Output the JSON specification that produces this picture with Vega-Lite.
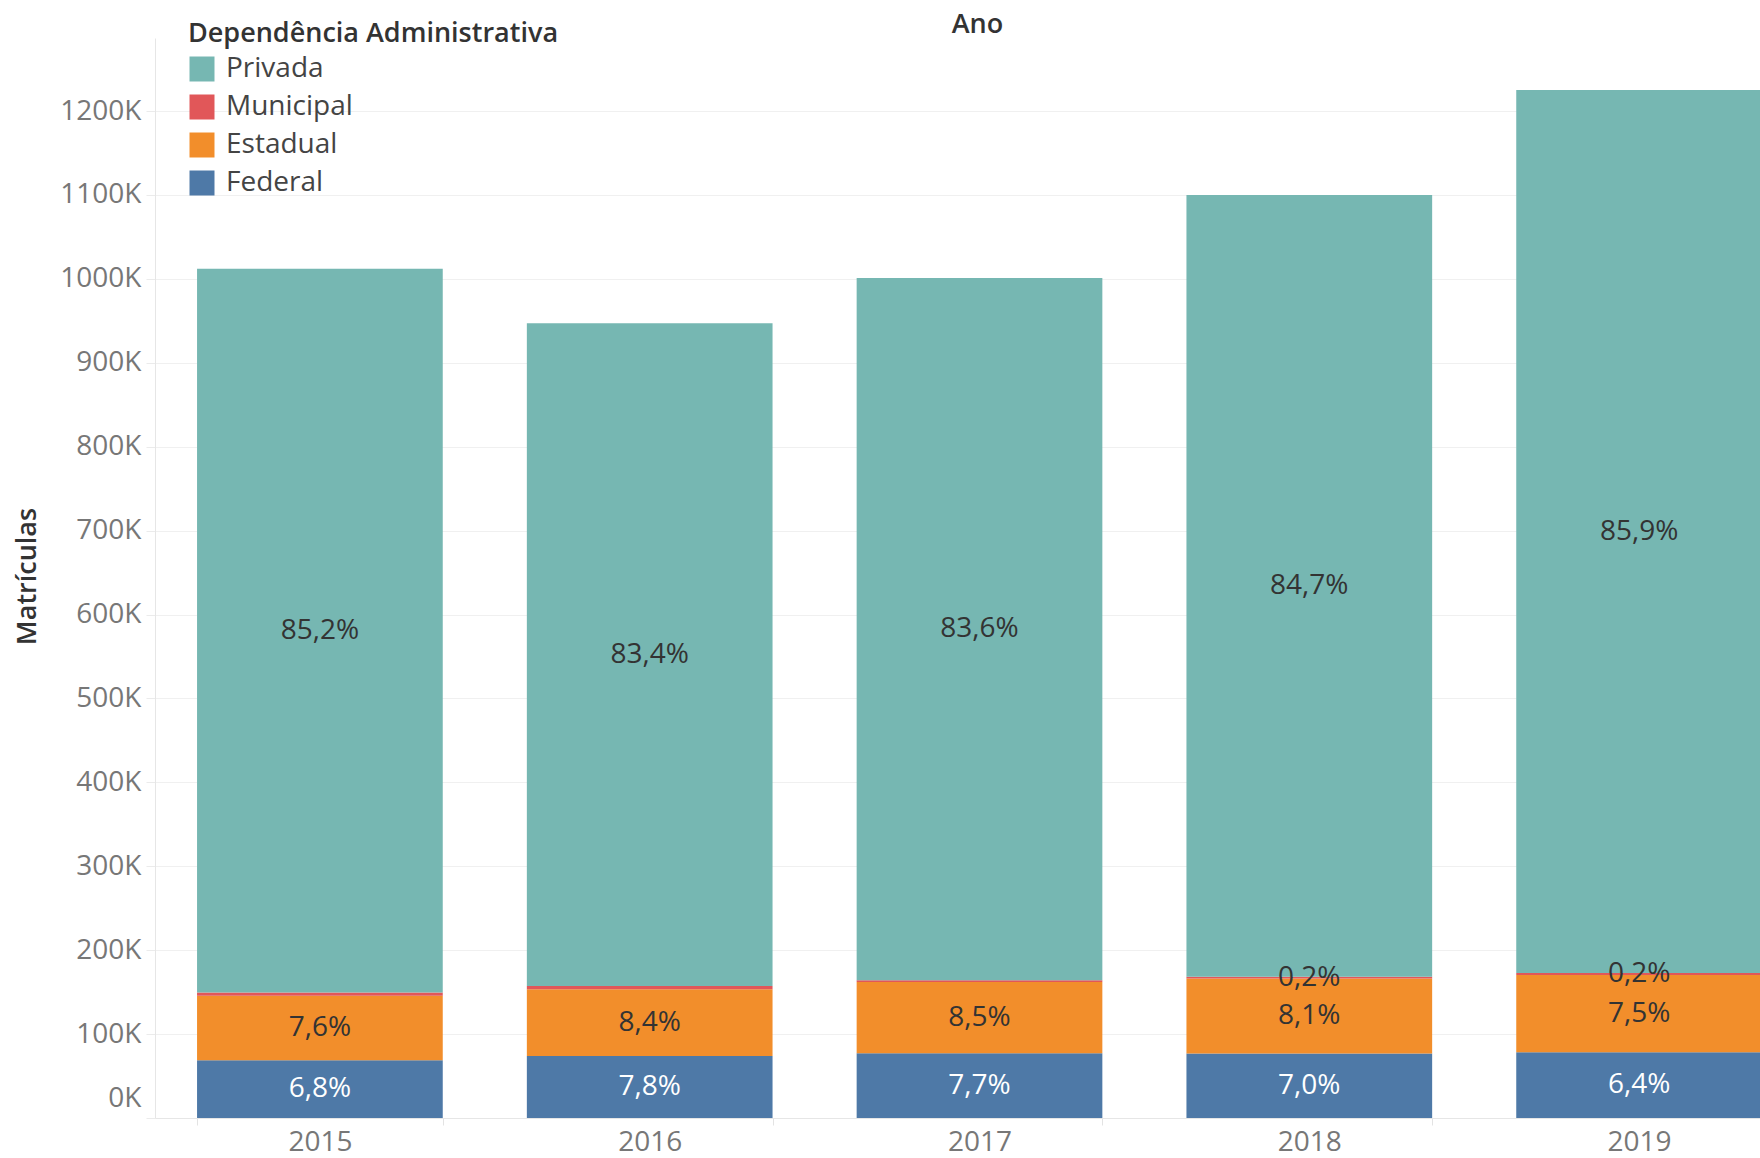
{
  "$schema": "https://vega.github.io/schema/vega-lite/v6.json",
  "autosize": "none",
  "width": 1605,
  "height": 1080,
  "padding": {"left": 155, "top": 38, "right": 0, "bottom": 40},
  "background": "white",
  "config": {"font": "Open Sans", "view": {"stroke": null}},
  "title": {"text": "Ano", "frame": "group", "anchor": "middle", "dx": 20, "offset": -39, "baseline": "alphabetic", "fontSize": 27, "fontWeight": 600, "color": "#333333"},
  "data": {"values": [
    {"ano": "2015", "dependencia": "Federal", "ordem": 1, "matriculas": 68800, "rotulo": "6,8%"},
    {"ano": "2015", "dependencia": "Estadual", "ordem": 2, "matriculas": 76900, "rotulo": "7,6%"},
    {"ano": "2015", "dependencia": "Municipal", "ordem": 3, "matriculas": 4000, "rotulo": ""},
    {"ano": "2015", "dependencia": "Privada", "ordem": 4, "matriculas": 862300, "rotulo": "85,2%"},
    {"ano": "2016", "dependencia": "Federal", "ordem": 1, "matriculas": 73900, "rotulo": "7,8%"},
    {"ano": "2016", "dependencia": "Estadual", "ordem": 2, "matriculas": 79500, "rotulo": "8,4%"},
    {"ano": "2016", "dependencia": "Municipal", "ordem": 3, "matriculas": 3800, "rotulo": ""},
    {"ano": "2016", "dependencia": "Privada", "ordem": 4, "matriculas": 789800, "rotulo": "83,4%"},
    {"ano": "2017", "dependencia": "Federal", "ordem": 1, "matriculas": 77100, "rotulo": "7,7%"},
    {"ano": "2017", "dependencia": "Estadual", "ordem": 2, "matriculas": 85100, "rotulo": "8,5%"},
    {"ano": "2017", "dependencia": "Municipal", "ordem": 3, "matriculas": 2000, "rotulo": ""},
    {"ano": "2017", "dependencia": "Privada", "ordem": 4, "matriculas": 836800, "rotulo": "83,6%"},
    {"ano": "2018", "dependencia": "Federal", "ordem": 1, "matriculas": 77000, "rotulo": "7,0%"},
    {"ano": "2018", "dependencia": "Estadual", "ordem": 2, "matriculas": 89100, "rotulo": "8,1%"},
    {"ano": "2018", "dependencia": "Municipal", "ordem": 3, "matriculas": 2200, "rotulo": "0,2%"},
    {"ano": "2018", "dependencia": "Privada", "ordem": 4, "matriculas": 931700, "rotulo": "84,7%"},
    {"ano": "2019", "dependencia": "Federal", "ordem": 1, "matriculas": 78400, "rotulo": "6,4%"},
    {"ano": "2019", "dependencia": "Estadual", "ordem": 2, "matriculas": 91900, "rotulo": "7,5%"},
    {"ano": "2019", "dependencia": "Municipal", "ordem": 3, "matriculas": 2450, "rotulo": "0,2%"},
    {"ano": "2019", "dependencia": "Privada", "ordem": 4, "matriculas": 1052250, "rotulo": "85,9%"}
  ]},
  "encoding": {
    "x": {
      "field": "ano", "type": "nominal",
      "scale": {"range": [0, 1649], "paddingInner": 0.255, "paddingOuter": 0.1275},
      "axis": {"title": null, "labelAngle": 0, "labelFontSize": 28, "labelColor": "#777777", "labelPadding": 3, "tickSize": 7, "tickColor": "#e3e3e3", "tickBand": "extent", "domainColor": "#e6e6e6", "grid": false}
    }
  },
  "layer": [
    {
      "mark": {"type": "bar"},
      "encoding": {
        "y": {
          "field": "matriculas", "type": "quantitative", "stack": "zero", "title": "Matrículas",
          "scale": {"domain": [0, 1287000], "nice": false},
          "axis": {
            "values": [0, 100000, 200000, 300000, 400000, 500000, 600000, 700000, 800000, 900000, 1000000, 1100000, 1200000],
            "labelExpr": "format(datum.value / 1000, 'd') + 'K'",
            "labelFontSize": 28, "labelColor": "#777777", "labelPadding": 5, "labelFlush": true, "labelFlushOffset": -6,
            "tickSize": 9, "tickColor": "#ebebeb", "domainColor": "#e6e6e6", "grid": true, "gridColor": "#f0f0f0",
            "titleFontSize": 27, "titleFontWeight": 600, "titleColor": "#333333",
            "titleX": -128, "titleY": 538, "titleAngle": -90, "titleAlign": "center", "titleBaseline": "middle"
          }
        },
        "color": {
          "field": "dependencia", "type": "nominal",
          "scale": {"domain": ["Privada", "Municipal", "Estadual", "Federal"], "range": ["#76B7B2", "#E15759", "#F28E2B", "#4E79A7"]},
          "legend": {
            "orient": "none", "legendX": 33, "legendY": -17, "padding": 0,
            "title": "Dependência Administrativa", "titleLimit": 800, "titleFontSize": 27, "titleFontWeight": 600, "titleColor": "#333333", "titlePadding": 7,
            "labelFontSize": 28, "labelColor": "#444444", "labelOffset": 10, "labelLimit": 400,
            "symbolType": "square", "symbolSize": 625, "symbolStrokeWidth": 0, "symbolOpacity": 1, "rowPadding": 10
          }
        },
        "order": {"field": "ordem", "type": "quantitative"}
      }
    },
    {
      "mark": {"type": "text", "fontSize": 28, "align": "center", "baseline": "middle"},
      "encoding": {
        "y": {"field": "matriculas", "type": "quantitative", "stack": "zero", "bandPosition": 0.5, "title": "Matrículas"},
        "detail": {"field": "dependencia", "type": "nominal"},
        "order": {"field": "ordem", "type": "quantitative"},
        "text": {"field": "rotulo", "type": "nominal"},
        "color": {"condition": {"test": "datum.dependencia === 'Federal'", "value": "#ffffff"}, "value": "#333333"}
      }
    }
  ]
}
